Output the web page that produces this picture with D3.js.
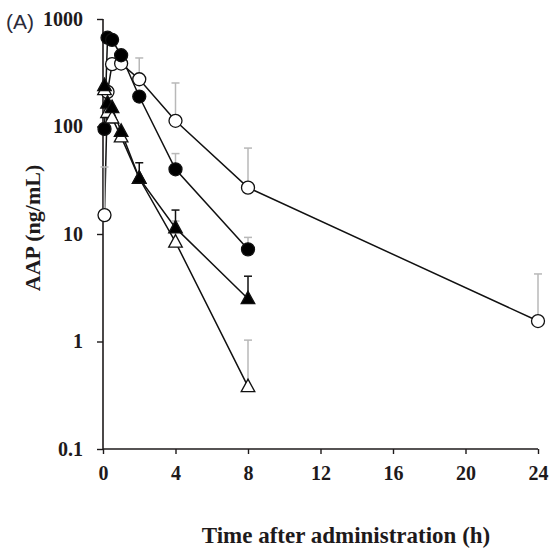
<!DOCTYPE html>
<html><head><meta charset="utf-8">
<script src="https://cdn.jsdelivr.net/npm/d3@7"></script>
<style>body{margin:0;background:#fff}svg{display:block}</style>
</head><body>
<svg id="c" width="553" height="552"></svg>
<script>
// ---- data ----
const timesShort = [0.083, 0.25, 0.5, 1, 2, 4, 8];
const timesLong  = [0.083, 0.25, 0.5, 1, 2, 4, 8, 24];
const openCircle    = [15, 210, 380, 385, 275, 113, 27, 1.55];
const openCircleSD  = [27, null, null, null, 159, 141, 36, 2.7];
const filledCircle   = [95, 670, 640, 460, 190, 40, 7.2];
const filledCircleSD = [null, null, null, null, null, 16, 2.1];
const openTri    = [220, 135, 120, 80, 33, 8.4, 0.38];
const openTriSD  = [null, null, null, null, null, 4.8, 0.65];
const filledTri   = [240, 165, 150, 90, 33, 11.4, 2.5];
const filledTriSD = [null, null, null, null, 13, 5.3, 1.55];
const xTicks = [0, 4, 8, 12, 16, 20, 24];
const yTicks = [0.1, 1, 10, 100, 1000];
const yTickLabels = ["0.1", "1", "10", "100", "1000"];

const svg = d3.select("#c");
const x = d3.scaleLinear().domain([0, 24]).range([103, 538]);
const y = d3.scaleLog().domain([0.1, 1000]).range([449, 19]);
const serif = "'Liberation Serif','Times New Roman',serif";
const ink = "#1e1a1b";

// axes
const yAxis = svg.append("g").attr("transform", "translate(103,0)")
  .call(d3.axisLeft(y).tickValues(yTicks).tickSize(6).tickPadding(14)
    .tickFormat((d, i) => yTickLabels[i]));
const xAxis = svg.append("g").attr("transform", "translate(0,449)")
  .call(d3.axisBottom(x).tickValues(xTicks).tickSize(5).tickPadding(12));
[xAxis, yAxis].forEach(g => {
  g.select(".domain").attr("stroke", ink).attr("stroke-width", 1.6);
  g.selectAll(".tick line").attr("stroke", ink).attr("stroke-width", 1.4);
  g.selectAll("text").attr("font-family", serif).attr("font-weight", "bold")
    .attr("font-size", 20).attr("fill", ink);
});
xAxis.select(".domain").attr("d", "M103,0H538");
yAxis.select(".domain").attr("d", "M0,449V19");

// titles
svg.append("text").attr("x", 346).attr("y", 543).attr("text-anchor", "middle")
  .attr("font-family", serif).attr("font-weight", "bold").attr("font-size", 23)
  .attr("fill", ink).text("Time after administration (h)");
svg.append("text").attr("transform", "translate(40,228) rotate(-90)")
  .attr("text-anchor", "middle")
  .attr("font-family", serif).attr("font-weight", "bold").attr("font-size", 22)
  .attr("fill", ink).text("AAP (ng/mL)");
svg.append("text").attr("x", 6).attr("y", 29)
  .attr("font-family", "'Liberation Sans',Arial,sans-serif").attr("font-size", 21)
  .attr("fill", "#2b2b3a").text("(A)");

const series = [
  {t: timesLong, v: openCircle, sd: openCircleSD, shape: "circle", fill: "#fff", ebar: "#b8b8b8"},
  {t: timesShort, v: filledCircle, sd: filledCircleSD, shape: "circle", fill: "#000", ebar: "#b8b8b8"},
  {t: timesShort, v: openTri, sd: openTriSD, shape: "tri", fill: "#fff", ebar: "#b8b8b8"},
  {t: timesShort, v: filledTri, sd: filledTriSD, shape: "tri", fill: "#000", ebar: "#111"}
];

const line = d3.line().x(d => x(d[0])).y(d => y(d[1]));
series.forEach(s => {
  svg.append("path").datum(s.t.map((t, i) => [t, s.v[i]]))
    .attr("d", line).attr("fill", "none").attr("stroke", "#111").attr("stroke-width", 1.5);
});
series.forEach(s => {
  s.t.forEach((t, i) => {
    if (s.sd[i] == null) return;
    const cx = x(t), y0 = y(s.v[i]), y1 = y(s.v[i] + s.sd[i]);
    const g = svg.append("g").attr("stroke", s.ebar).attr("stroke-width", 1.5);
    g.append("line").attr("x1", cx).attr("x2", cx).attr("y1", y0).attr("y2", y1);
    g.append("line").attr("x1", cx - 4).attr("x2", cx + 4).attr("y1", y1).attr("y2", y1);
  });
});
series.forEach(s => {
  s.t.forEach((t, i) => {
    const cx = x(t), cy = y(s.v[i]);
    if (s.shape === "circle") {
      svg.append("circle").attr("cx", cx).attr("cy", cy).attr("r", 6.5)
        .attr("fill", s.fill).attr("stroke", "#111").attr("stroke-width", 1.3);
    } else {
      svg.append("path")
        .attr("d", `M${cx},${cy - 7.5}L${cx + 6.8},${cy + 5}L${cx - 6.8},${cy + 5}Z`)
        .attr("fill", s.fill).attr("stroke", "#111").attr("stroke-width", 1.3);
    }
  });
});
</script>
</body></html>
